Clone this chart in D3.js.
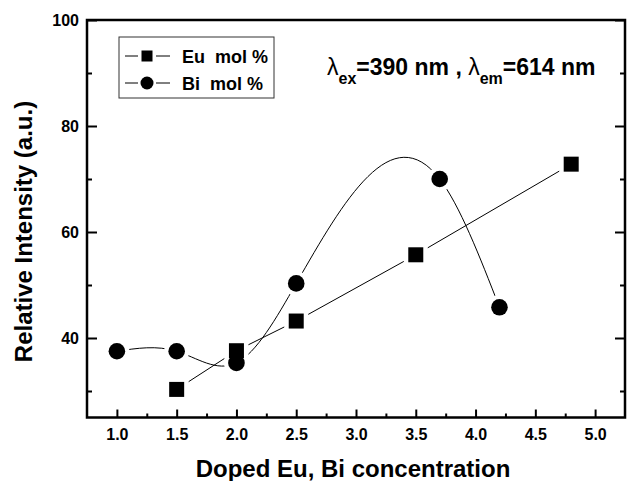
<!DOCTYPE html>
<html>
<head>
<meta charset="utf-8">
<script src="https://cdn.jsdelivr.net/npm/d3@7"></script>
<style>
  body { margin: 0; background: #fff; }
  svg text { font-family: "Liberation Sans", Arial, sans-serif; font-weight: bold; fill: #000; }
</style>
</head>
<body>
<div id="chart"></div>
<script>
// data
var euX = [1.5, 2.0, 2.5, 3.5, 4.8];
var euY = [30.3, 37.6, 43.2, 55.7, 72.8];
var biX = [1.0, 1.5, 2.0, 2.5, 3.7, 4.2];
var biY = [37.5, 37.5, 35.3, 50.3, 70.0, 45.8];
var xTicks = [1.0, 1.5, 2.0, 2.5, 3.0, 3.5, 4.0, 4.5, 5.0];
var xMinor = [1.25, 1.75, 2.25, 2.75, 3.25, 3.75, 4.25, 4.75];
var yTicks = [40, 60, 80, 100];
var yMinor = [30, 50, 70, 90];
var legendNames = ["Eu  mol %", "Bi  mol %"];

var width = 627, height = 481;
var plotL = 87, plotT = 20, plotR = 625, plotB = 417.5;

var svg = d3.select("#chart").append("svg")
	.attr("width", width)
	.attr("height", height);

var x = d3.scaleLinear().domain([0.75, 5.25]).range([plotL, plotR]);
var y = d3.scaleLinear().domain([25, 100]).range([plotB, plotT]);

var euPts = euX.map(function (d, i) { return [d, euY[i]]; });
var biPts = biX.map(function (d, i) { return [d, biY[i]]; });

// natural cubic spline y(x), like the origin "spline" line, as a d3 curve
function curveSplineX(context) {
	var px, py;
	return {
		areaStart: function () {}, areaEnd: function () {},
		lineStart: function () { px = []; py = []; },
		point: function (a, b) { px.push(+a); py.push(+b); },
		lineEnd: function () {
			var n = px.length - 1, i;
			if (n < 1) return;
			context.moveTo(px[0], py[0]);
			if (n === 1) { context.lineTo(px[1], py[1]); return; }
			var h = [], M = new Array(n + 1).fill(0);
			for (i = 0; i < n; i++) h.push(px[i + 1] - px[i]);
			// tridiagonal solve for second derivatives, natural ends
			var a = [], b = [], c = [], r = [];
			for (i = 1; i < n; i++) {
				a.push(h[i - 1]); b.push(2 * (h[i - 1] + h[i])); c.push(h[i]);
				r.push(6 * ((py[i + 1] - py[i]) / h[i] - (py[i] - py[i - 1]) / h[i - 1]));
			}
			var m = b.length;
			for (i = 1; i < m; i++) {
				var w = a[i] / b[i - 1];
				b[i] -= w * c[i - 1];
				r[i] -= w * r[i - 1];
			}
			var sol = new Array(m);
			sol[m - 1] = r[m - 1] / b[m - 1];
			for (i = m - 2; i >= 0; i--) sol[i] = (r[i] - c[i] * sol[i + 1]) / b[i];
			for (i = 0; i < m; i++) M[i + 1] = sol[i];
			for (i = 0; i < n; i++) {
				var s = (py[i + 1] - py[i]) / h[i];
				var d0 = s - h[i] * (2 * M[i] + M[i + 1]) / 6;
				var d1 = s + h[i] * (M[i] + 2 * M[i + 1]) / 6;
				context.bezierCurveTo(
					px[i] + h[i] / 3, py[i] + d0 * h[i] / 3,
					px[i + 1] - h[i] / 3, py[i + 1] - d1 * h[i] / 3,
					px[i + 1], py[i + 1]);
			}
		}
	};
}

// axes, ticks point inward
svg.append("g").attr("transform", "translate(0," + plotB + ")")
	.call(d3.axisBottom(x).tickValues(xTicks).tickSize(-8).tickPadding(11).tickFormat(d3.format(".1f")))
	.attr("class", "xaxis");
svg.append("g").attr("transform", "translate(0," + plotB + ")")
	.call(d3.axisBottom(x).tickValues(xMinor).tickSize(-4).tickFormat(""));
svg.append("g").attr("transform", "translate(" + plotL + ",0)")
	.call(d3.axisLeft(y).tickValues(yTicks).tickSize(-10).tickPadding(8).tickFormat(d3.format("d")))
	.attr("class", "yaxis");
svg.append("g").attr("transform", "translate(" + plotL + ",0)")
	.call(d3.axisLeft(y).tickValues(yMinor).tickSize(-5).tickFormat(""));
svg.append("g").attr("transform", "translate(" + plotR + ",0)")
	.call(d3.axisRight(y).tickValues(yTicks).tickSize(-10).tickFormat(""));
svg.append("g").attr("transform", "translate(" + plotR + ",0)")
	.call(d3.axisRight(y).tickValues(yMinor).tickSize(-5).tickFormat(""));

svg.selectAll(".domain").remove();
svg.selectAll(".tick line").attr("stroke", "#000").attr("stroke-width", 2);
svg.selectAll(".xaxis text, .yaxis text").style("font-size", "16px");

svg.append("rect")
	.attr("x", plotL).attr("y", plotT)
	.attr("width", plotR - plotL).attr("height", plotB - plotT)
	.attr("fill", "none").attr("stroke", "#000").attr("stroke-width", 2.5);

// series lines
var euLine = d3.line().x(function (d) { return x(d[0]); }).y(function (d) { return y(d[1]); });
var biLine = d3.line().x(function (d) { return x(d[0]); }).y(function (d) { return y(d[1]); }).curve(curveSplineX);

svg.append("path").datum(euPts).attr("d", euLine)
	.attr("fill", "none").attr("stroke", "#000").attr("stroke-width", 1);
svg.append("path").datum(biPts).attr("d", biLine)
	.attr("fill", "none").attr("stroke", "#000").attr("stroke-width", 1);

// white gaps around symbols
svg.selectAll(".halo-sq").data(euPts).enter().append("rect")
	.attr("x", function (d) { return x(d[0]) - 12; })
	.attr("y", function (d) { return y(d[1]) - 12; })
	.attr("width", 24).attr("height", 24).attr("fill", "#fff");
svg.selectAll(".halo-ci").data(biPts).enter().append("circle")
	.attr("cx", function (d) { return x(d[0]); })
	.attr("cy", function (d) { return y(d[1]); })
	.attr("r", 12.5).attr("fill", "#fff");

svg.selectAll(".sq").data(euPts).enter().append("rect")
	.attr("x", function (d) { return x(d[0]) - 7.5; })
	.attr("y", function (d) { return y(d[1]) - 7.5; })
	.attr("width", 15).attr("height", 15).attr("fill", "#000");
svg.selectAll(".ci").data(biPts).enter().append("circle")
	.attr("cx", function (d) { return x(d[0]); })
	.attr("cy", function (d) { return y(d[1]); })
	.attr("r", 8.3).attr("fill", "#000");

// axis titles
svg.append("text")
	.attr("x", 353).attr("y", 477)
	.attr("text-anchor", "middle")
	.style("font-size", "24px")
	.text("Doped Eu, Bi concentration");
svg.append("text")
	.attr("transform", "translate(32,231.5) rotate(-90)")
	.attr("text-anchor", "middle")
	.style("font-size", "24px")
	.text("Relative Intensity (a.u.)");

// legend
var lg = svg.append("g");
lg.append("rect").attr("x", 119).attr("y", 37).attr("width", 155).attr("height", 61)
	.attr("fill", "#fff").attr("stroke", "#333").attr("stroke-width", 1);
legendNames.forEach(function (name, i) {
	var ly = 56 + i * 27;
	lg.append("line").attr("x1", 125).attr("x2", 138).attr("y1", ly).attr("y2", ly)
		.attr("stroke", "#000").attr("stroke-width", 1);
	lg.append("line").attr("x1", 156).attr("x2", 170).attr("y1", ly).attr("y2", ly)
		.attr("stroke", "#000").attr("stroke-width", 1);
	if (i === 0) {
		lg.append("rect").attr("x", 141.5).attr("y", ly - 5.5).attr("width", 11).attr("height", 11).attr("fill", "#000");
	} else {
		lg.append("circle").attr("cx", 147).attr("cy", ly).attr("r", 6.5).attr("fill", "#000");
	}
	lg.append("text").attr("x", 182).attr("y", ly + 6.5)
		.attr("xml:space", "preserve").style("white-space", "pre")
		.style("font-size", "18px")
		.text(name);
});

// excitation / emission note
var note = svg.append("text").attr("x", 327).attr("y", 75).style("font-size", "23px");
note.append("tspan").style("font-weight", "normal").text("λ");
note.append("tspan").attr("dy", 9).style("font-size", "16px").text("ex");
note.append("tspan").attr("dy", -9).text("=390 nm , ");
note.append("tspan").style("font-weight", "normal").text("λ");
note.append("tspan").attr("dy", 9).style("font-size", "16px").text("em");
note.append("tspan").attr("dy", -9).text("=614 nm");
</script>
</body>
</html>
